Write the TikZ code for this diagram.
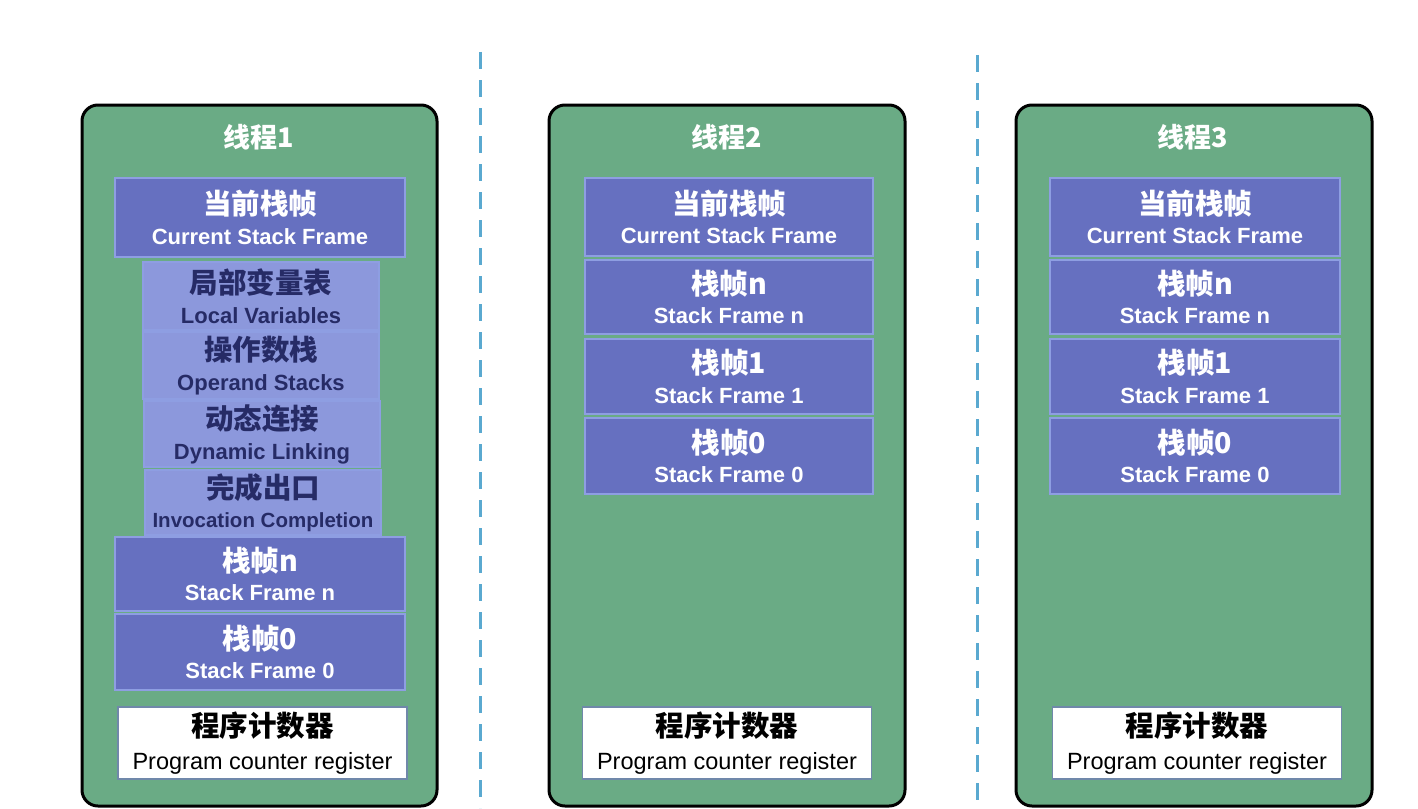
\documentclass[tikz,border=0pt]{standalone}
\usepackage{fontspec}
\setmainfont{Liberation Sans}
\newfontfamily\cjkfont{Noto Sans CJK SC}
\definecolor{thgreen}{HTML}{6AAB85}
\definecolor{dkframe}{HTML}{6670C0}
\definecolor{ltframe}{HTML}{8C98DC}
\definecolor{frameedge}{HTML}{8E9EE2}
\definecolor{navytext}{HTML}{262B66}
\definecolor{pcedge}{HTML}{7088AA}
\definecolor{dashblue}{HTML}{5AA9D0}
\newcommand{\twoline}[2]{{\cjkfont\bfseries\fontsize{28.5}{30}\selectfont #1}\\[10pt]{\bfseries\fontsize{22}{24}\selectfont #2}}
\newcommand{\pcline}[2]{{\cjkfont\bfseries\fontsize{28.5}{30}\selectfont #1}\\[12pt]{\fontsize{23.5}{24}\selectfont #2}}
\begin{document}
\begin{tikzpicture}[x=1pt,y=-1pt,
  thread/.style={draw=black,line width=3pt,fill=thgreen,rounded corners=16pt},
  title/.style={text=white,font=\cjkfont\bfseries\fontsize{27}{30}\selectfont},
  dkbox/.style={draw=frameedge,line width=1.5pt,fill=dkframe,text=white,align=center,inner sep=0pt},
  ltbox/.style={draw=frameedge,line width=1.5pt,fill=ltframe,text=navytext,align=center,inner sep=0pt},
  pcbox/.style={draw=pcedge,line width=1.5pt,fill=white,text=black,align=center,inner sep=0pt,minimum width=289pt,minimum height=72pt},
  sep/.style={draw=dashblue,line width=3pt,dash pattern=on 17pt off 11pt}]
\useasboundingbox[fill=white] (0,0) rectangle (1418,808);
% separators
\coordinate (s1a) at (480,52); \coordinate (s1b) at (480,808);
\coordinate (s2a) at (977,55); \coordinate (s2b) at (977,808);
\draw[sep] (s1a) -- (s1b);
\draw[sep] (s2a) -- (s2b);
% ---------- thread 1
\draw[thread] (82,105) rectangle (437,806);
\node[title] (t1) at (259,137) {线程1};
\node[dkbox,minimum width=290pt,minimum height=79pt] (t1cur) at (260,217.5) {\twoline{当前栈帧}{Current Stack Frame}};
\node[ltbox,minimum width=236pt,minimum height=68pt] (t1lv) at (261,296) {\twoline{局部变量表}{Local Variables}};
\node[ltbox,minimum width=236pt,minimum height=67pt] (t1os) at (261,365.5) {\twoline{操作数栈}{Operand Stacks}};
\node[ltbox,minimum width=236pt,minimum height=66pt] (t1dl) at (262,434) {\twoline{动态连接}{Dynamic Linking}};
\node[ltbox,minimum width=236pt,minimum height=65pt] (t1ic) at (263,502.5) {{\cjkfont\bfseries\fontsize{28.5}{30}\selectfont 完成出口}\\[10pt]{\bfseries\fontsize{20.5}{24}\selectfont Invocation Completion}};
\node[dkbox,minimum width=290pt,minimum height=74pt] (t1n) at (260,574) {\twoline{栈帧n}{Stack Frame n}};
\node[dkbox,minimum width=290pt,minimum height=76pt] (t10) at (260,652) {\twoline{栈帧0}{Stack Frame 0}};
\node[pcbox] (t1pc) at (262.5,743) {\pcline{程序计数器}{Program counter register}};
% ---------- thread 2
\draw[thread] (549,105) rectangle (905,806);
\node[title] (t2) at (727,137) {线程2};
\node[dkbox,minimum width=288pt,minimum height=78pt] (t2cur) at (729,217) {\twoline{当前栈帧}{Current Stack Frame}};
\node[dkbox,minimum width=288pt,minimum height=74pt] (t2n) at (729,297) {\twoline{栈帧n}{Stack Frame n}};
\node[dkbox,minimum width=288pt,minimum height=75pt] (t21) at (729,376.5) {\twoline{栈帧1}{Stack Frame 1}};
\node[dkbox,minimum width=288pt,minimum height=76pt] (t20) at (729,456) {\twoline{栈帧0}{Stack Frame 0}};
\node[pcbox] (t2pc) at (727,743) {\pcline{程序计数器}{Program counter register}};
% ---------- thread 3
\draw[thread] (1016,105) rectangle (1372,806);
\node[title] (t3) at (1193,137) {线程3};
\node[dkbox,minimum width=290pt,minimum height=78pt] (t3cur) at (1195,217) {\twoline{当前栈帧}{Current Stack Frame}};
\node[dkbox,minimum width=290pt,minimum height=74pt] (t3n) at (1195,297) {\twoline{栈帧n}{Stack Frame n}};
\node[dkbox,minimum width=290pt,minimum height=75pt] (t31) at (1195,376.5) {\twoline{栈帧1}{Stack Frame 1}};
\node[dkbox,minimum width=290pt,minimum height=76pt] (t30) at (1195,456) {\twoline{栈帧0}{Stack Frame 0}};
\node[pcbox] (t3pc) at (1197,743) {\pcline{程序计数器}{Program counter register}};
\end{tikzpicture}
\end{document}
